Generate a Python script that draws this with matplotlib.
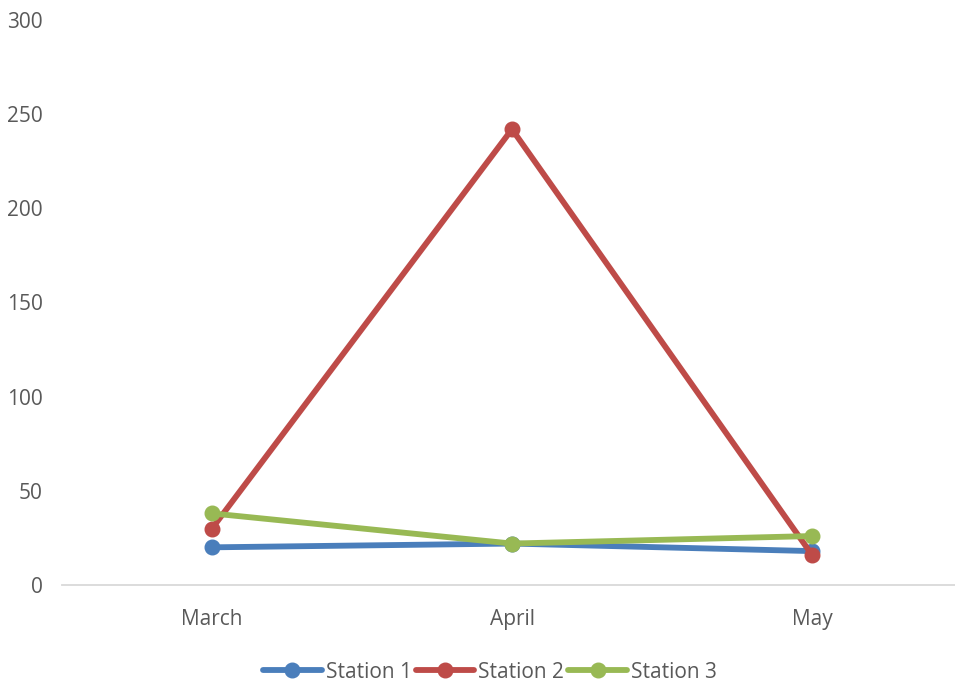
import matplotlib
matplotlib.use("Agg")
import matplotlib.pyplot as plt

months = ["March", "April", "May"]
station1 = [20, 22, 18]
station2 = [30, 242, 16]
station3 = [38, 22, 26]
yticks = [0, 50, 100, 150, 200, 250, 300]

plt.rcParams['font.family'] = ['Open Sans', 'DejaVu Sans']
txt = '#595959'

fig = plt.figure(figsize=(9.55, 6.88), dpi=100)
ax = fig.add_axes([62/955, 1-585/688, (962-62)/955, (585-20)/688])

x = list(range(len(months)))
ax.plot(x, station1, color='#4A7EBB', lw=4.2, marker='o', ms=10.5, label='Station 1', solid_capstyle='round')
ax.plot(x, station2, color='#BE4B48', lw=4.2, marker='o', ms=10.5, label='Station 2', solid_capstyle='round')
ax.plot(x, station3, color='#98B954', lw=4.2, marker='o', ms=10.5, label='Station 3', solid_capstyle='round')

ax.set_xlim(-0.5, 2.5)
ax.set_ylim(0, 300)
ax.set_xticks(x)
ax.set_xticklabels(months)
ax.set_yticks(yticks)
ax.tick_params(length=0, labelsize=15, colors=txt)
ax.tick_params(axis='x', pad=17)
ax.tick_params(axis='y', pad=14)

for s in ['top', 'right', 'left']:
    ax.spines[s].set_visible(False)
ax.spines['bottom'].set_color('#D9D9D9')
ax.spines['bottom'].set_linewidth(1.3)

fig.legend(loc='center', bbox_to_anchor=(490/955, 1-672/688), ncol=3, frameon=False,
           fontsize=15, labelcolor=txt, handlelength=2.8, handletextpad=0.2, columnspacing=0.2)

fig.savefig('out.png', dpi=100)
